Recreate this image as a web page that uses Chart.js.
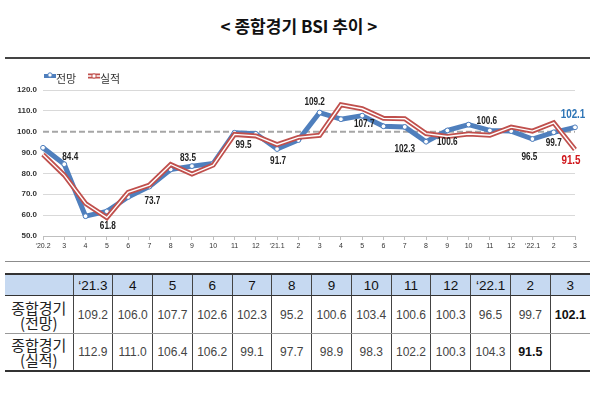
<!DOCTYPE html>
<html>
<head>
<meta charset="utf-8">
<script src="https://cdn.jsdelivr.net/npm/chart.js@4/dist/chart.umd.min.js"></script>
<style>
  html, body { margin: 0; padding: 0; background: #fff; }
  #page { position: relative; width: 600px; height: 397px; overflow: hidden; background: #fff; }
  #title { position: absolute; top: 14px; left: 0; width: 598px; text-align: center;
           font: bold 17px "Noto Sans CJK KR", "Noto Sans", sans-serif; color: #111; line-height: 24px; }
  #topline { position: absolute; top: 57px; left: 5px; width: 585px; height: 2px; background: #444; }
  #chartbox { position: absolute; top: 60px; left: 0; width: 600px; height: 198px; }
  #midline { position: absolute; top: 261px; left: 5px; width: 585px; height: 1px; background: #8c8c8c; }
  #tbl { position: absolute; top: 273px; left: 5px; width: 585px; border-collapse: collapse; table-layout: fixed;
         font-family: "Liberation Sans", Arial, sans-serif; }
  #tbl td { border-left: 1px solid #444; border-right: 1px solid #444; text-align: center; padding: 0; overflow: hidden; white-space: nowrap; }
  #tbl tr:first-child td { border-top: 2px solid #333; border-bottom: 1px solid #333; background: #c6d9f1;
        height: 20px; font-size: 13.5px; color: #111; }
  #tbl tr.r1 td { height: 37px; font-size: 12px; color: #444; border-bottom: 1px solid #999; }
  #tbl tr.r2 td { height: 36px; font-size: 12px; color: #444; border-bottom: 2px solid #333; }
  #tbl tr td.lab { font: 15px/15px "Noto Sans CJK KR", sans-serif; color: #222; white-space: normal; }
  #tbl tr td.bold { font-weight: bold; color: #111; font-size: 12.5px; }
  #tbl tr td:first-child { border-left: none; }
  #tbl tr td:last-child { border-right: none; }
</style>
</head>
<body>
<div id="page">
  <div id="title">&lt; 종합경기 BSI 추이 &gt;</div>
  <div id="topline"></div>
  <div id="chartbox"><canvas id="c"></canvas></div>
  <div id="midline"></div>
  <table id="tbl"><colgroup id="cg"></colgroup><tbody id="tb"></tbody></table>
</div>
<script>
// ---- chart data ----
const categories = ["\u201820.2","3","4","5","6","7","8","9","10","11","12",
                    "\u201821.1","2","3","4","5","6","7","8","9","10","11","12",
                    "\u201822.1","2","3"];
const forecast = [92.3, 84.4, 59.5, 61.8, 68.7, 73.7, 81.9, 83.5, 84.8, 99.5, 99.0, 91.7,
                  96.0, 109.2, 106.0, 107.7, 102.6, 102.3, 95.2, 100.6, 103.4, 100.6, 100.3,
                  96.5, 99.7, 102.1];
const actual   = [89.1, 79.2, 65.6, 58.8, 70.9, 74.4, 84.3, 79.7, 84.0, 98.7, 98.0, 93.8,
                  97.3, 98.3, 112.9, 111.0, 106.4, 106.2, 99.1, 97.7, 98.9, 98.3, 102.2,
                  100.3, 104.3, 91.5];
const yTicks = [50, 60, 70, 80, 90, 100, 110, 120];
const seriesNames = ["전망", "실적"];

// ---- table data ----
const tableCols = ["\u201821.3","4","5","6","7","8","9","10","11","12","\u201822.1","2","3"];
const tableForecast = ["109.2","106.0","107.7","102.6","102.3","95.2","100.6","103.4","100.6","100.3","96.5","99.7","102.1"];
const tableActual   = ["112.9","111.0","106.4","106.2","99.1","97.7","98.9","98.3","102.2","100.3","104.3","91.5",""];
const rowLabels = ["종합경기<br>(전망)", "종합경기<br>(실적)"];

// ---- label annotations (which points are labelled, and offsets) ----
const forecastLabelIdx = [1, 3, 5, 7, 9, 11, 13, 15, 17, 19, 21, 23, 24];
const forecastLabelOff = [[6,-7.5],[1,14.5],[3,15],[-4,-8],[9,12],[1,12],[-5,-10],[2,9],[0,22],[0,12],[-3,-9.5],[-3,18],[0,10.5]];

// build table
(function(){
  const cg = document.getElementById('cg');
  let h = '<col style="width:68px">';
  for (let i = 0; i < tableCols.length; i++) h += '<col>';
  cg.innerHTML = h;
  const tb = document.getElementById('tb');
  let s = '<tr><td></td>' + tableCols.map(c => '<td>' + c + '</td>').join('') + '</tr>';
  s += '<tr class="r1"><td class="lab">' + rowLabels[0] + '</td>' +
       tableForecast.map((v, i) => '<td' + (i === tableForecast.length - 1 ? ' class="bold"' : '') + '>' + v + '</td>').join('') + '</tr>';
  s += '<tr class="r2"><td class="lab">' + rowLabels[1] + '</td>' +
       tableActual.map((v, i) => '<td' + (i === 11 ? ' class="bold"' : '') + '>' + v + '</td>').join('') + '</tr>';
  tb.innerHTML = s;
})();

const BLUE = '#4f7fbd';
const RED = '#c0504d';

const extras = {
  id: 'extras',
  beforeDatasetsDraw(chart) {
    const {ctx, chartArea, scales} = chart;
    const y = scales.y.getPixelForValue(100);
    ctx.save();
    ctx.strokeStyle = '#a6a6a6';
    ctx.lineWidth = 2;
    ctx.setLineDash([6, 3]);
    ctx.beginPath();
    ctx.moveTo(chartArea.left, y);
    ctx.lineTo(chartArea.right, y);
    ctx.stroke();
    ctx.restore();
  },
  afterDatasetsDraw(chart) {
    const {ctx} = chart;
    const blueMeta = chart.getDatasetMeta(2);
    const redMeta = chart.getDatasetMeta(1);
    ctx.save();
    ctx.textAlign = 'center';
    ctx.textBaseline = 'middle';
    function txt(str, x, y, font, color, sx) {
      ctx.save();
      ctx.font = font;
      ctx.fillStyle = color;
      ctx.translate(x, y);
      ctx.scale(sx, 1);
      ctx.fillText(str, 0, 0);
      ctx.restore();
    }
    forecastLabelIdx.forEach((idx, k) => {
      const p = blueMeta.data[idx];
      const o = forecastLabelOff[k];
      txt(forecast[idx].toFixed(1), p.x + o[0], p.y + o[1], 'bold 10px "Liberation Sans", Arial', '#222', 0.82);
    });
    const last = forecast.length - 1;
    const pb = blueMeta.data[last];
    txt(forecast[last].toFixed(1), pb.x - 2, pb.y - 13, 'bold 12px "Liberation Sans", Arial', '#2e75b6', 0.82);
    const pr = redMeta.data[last];
    txt(actual[last].toFixed(1), pr.x - 4, pr.y + 11, 'bold 12px "Liberation Sans", Arial', '#d0161b', 0.82);
    ctx.restore();
  },
  afterDraw(chart) {
    const {ctx} = chart;
    ctx.save();
    const ly = 16;
    ctx.strokeStyle = BLUE; ctx.lineWidth = 4; ctx.lineCap = 'butt';
    ctx.beginPath(); ctx.moveTo(44, ly); ctx.lineTo(56, ly); ctx.stroke();
    ctx.fillStyle = '#fff'; ctx.strokeStyle = BLUE; ctx.lineWidth = 1;
    ctx.beginPath(); ctx.arc(50, ly - 1, 2.2, 0, Math.PI * 2); ctx.fill(); ctx.stroke();
    ctx.font = '11px "Noto Sans CJK KR", sans-serif';
    ctx.fillStyle = '#333'; ctx.textBaseline = 'middle'; ctx.textAlign = 'left';
    ctx.fillText(seriesNames[0], 56, ly + 3);
    ctx.strokeStyle = RED; ctx.lineWidth = 5;
    ctx.beginPath(); ctx.moveTo(88, ly); ctx.lineTo(100, ly); ctx.stroke();
    ctx.strokeStyle = '#fff'; ctx.lineWidth = 1.5;
    ctx.beginPath(); ctx.moveTo(88, ly); ctx.lineTo(100, ly); ctx.stroke();
    ctx.fillStyle = '#fff'; ctx.strokeStyle = RED; ctx.lineWidth = 1;
    ctx.beginPath(); ctx.arc(94, ly, 2.2, 0, Math.PI * 2); ctx.fill(); ctx.stroke();
    ctx.fillStyle = '#333';
    ctx.fillText(seriesNames[1], 100, ly + 3);
    ctx.restore();
  }
};

new Chart(document.getElementById('c'), {
  type: 'line',
  data: {
    labels: categories,
    datasets: [
      { label: seriesNames[1] + ' inner', data: actual, borderColor: '#ffffff', borderWidth: 1.4,
        pointRadius: 0, tension: 0, fill: false },
      { label: seriesNames[1], data: actual, borderColor: RED, borderWidth: 5,
        pointRadius: 0, tension: 0, fill: false, borderJoinStyle: 'miter' },
      { label: seriesNames[0], data: forecast, borderColor: BLUE, borderWidth: 5,
        pointRadius: 2.4, pointBorderWidth: 1, pointBackgroundColor: '#fff', pointBorderColor: BLUE,
        tension: 0, fill: false, borderJoinStyle: 'round' }
    ]
  },
  options: {
    responsive: true,
    maintainAspectRatio: false,
    animation: false,
    devicePixelRatio: 1,
    layout: { padding: { left: 0, right: 25, top: 30, bottom: 0 } },
    plugins: { legend: { display: false }, tooltip: { enabled: false }, title: { display: false } },
    scales: {
      x: {
        offset: false,
        grid: { display: true, drawOnChartArea: false, drawTicks: true, tickLength: 4, color: '#bfbfbf' },
        border: { display: true, color: '#bfbfbf', width: 1 },
        ticks: { autoSkip: false, maxRotation: 0, minRotation: 0, padding: 2,
                 font: { size: 7, family: '"Liberation Sans", Arial' }, color: '#333' },
        afterFit(s) { s.height = 22; }
      },
      y: {
        min: 50, max: 120,
        afterBuildTicks(s) { s.ticks = yTicks.map(v => ({ value: v })); },
        grid: { color: ctx => (ctx.tick && ctx.tick.value === 100) ? 'rgba(0,0,0,0)' : '#d9d9d9',
                drawTicks: false, lineWidth: 1 },
        border: { display: false },
        ticks: { padding: 6, callback: v => Number(v).toFixed(1),
                 font: { size: 8, weight: 'bold', family: '"Liberation Sans", Arial' }, color: '#333' },
        afterFit(s) { s.width = 43; }
      }
    }
  },
  plugins: [extras]
});
</script>
</body>
</html>
